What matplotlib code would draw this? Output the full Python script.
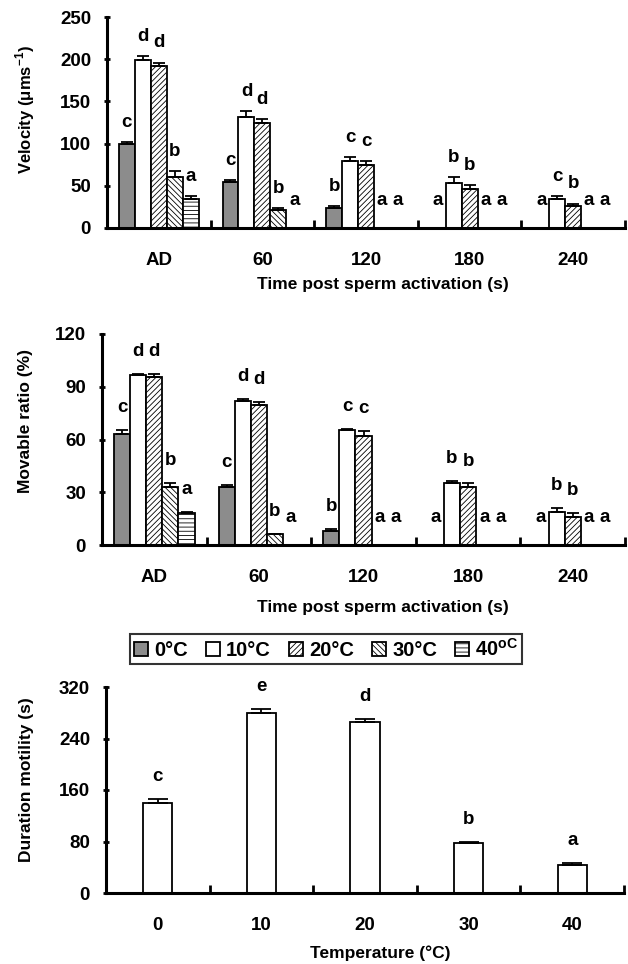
import numpy as np
import matplotlib
matplotlib.use("Agg")
import matplotlib.pyplot as plt

plt.rcParams['font.family'] = ['Liberation Sans', 'DejaVu Sans']
plt.rcParams['font.weight'] = 'bold'
plt.rcParams['mathtext.fontset'] = 'custom'
plt.rcParams['mathtext.rm'] = 'Liberation Sans:bold'
plt.rcParams['mathtext.bf'] = 'Liberation Sans:bold'
plt.rcParams['hatch.linewidth'] = 0.6

# data
groups = ['AD', '60', '120', '180', '240']
temps = ['0\u00b0C', '10\u00b0C', '20\u00b0C', '30\u00b0C', '40$^{\\mathbf{oC}}$']

vel_0 = [100, 55, 24, 0, 0]
vel_10 = [199, 132, 79, 53, 34]
vel_20 = [192, 125, 75, 46, 26]
vel_30 = [60, 21, 0, 0, 0]
vel_40 = [34, 0, 0, 0, 0]
vel_err_0 = [2, 2, 2, 0, 0]
vel_err_10 = [5, 7, 5, 7, 4]
vel_err_20 = [4, 4, 4, 5, 3]
vel_err_30 = [7, 3, 0, 0, 0]
vel_err_40 = [4, 0, 0, 0, 0]
vel_letters = [['c', 'd', 'd', 'b', 'a'],
               ['c', 'd', 'd', 'b', 'a'],
               ['b', 'c', 'c', 'a', 'a'],
               ['a', 'b', 'b', 'a', 'a'],
               ['a', 'c', 'b', 'a', 'a']]

mov_0 = [63, 33, 8, 0, 0]
mov_10 = [96.5, 82, 65.5, 35.5, 19]
mov_20 = [95.5, 79.5, 62, 33, 16]
mov_30 = [33, 6, 0, 0, 0]
mov_40 = [18, 0, 0, 0, 0]
mov_err_0 = [2.5, 1, 1, 0, 0]
mov_err_10 = [1, 1, 0.7, 0.7, 2]
mov_err_20 = [2, 2, 3, 2, 2]
mov_err_30 = [2.5, 0.5, 0, 0, 0]
mov_err_40 = [1, 0, 0, 0, 0]
mov_letters = [['c', 'd', 'd', 'b', 'a'],
               ['c', 'd', 'd', 'b', 'a'],
               ['b', 'c', 'c', 'a', 'a'],
               ['a', 'b', 'b', 'a', 'a'],
               ['a', 'b', 'b', 'a', 'a']]

dur_temps = ['0', '10', '20', '30', '40']
dur = [140, 280, 265, 78, 43]
dur_err = [6, 6, 5, 2, 4]
dur_letters = ['c', 'e', 'd', 'b', 'a']

# bar styles per temperature
styles = [dict(color='#8c8c8c', hatch=None),
          dict(color='white', hatch=None),
          dict(color='white', hatch='//////'),
          dict(color='white', hatch='\\\\\\\\\\\\'),
          dict(color='white', hatch='----')]


def style_axis(ax, ymax, ystep):
    for s in ['top', 'right']:
        ax.spines[s].set_visible(False)
    for s in ['left', 'bottom']:
        ax.spines[s].set_linewidth(2.2)
    ax.set_xlim(-0.5, 4.5)
    ax.set_ylim(0, ymax)
    ax.set_yticks(np.arange(0, ymax + 1, ystep))
    ax.set_xticks(np.arange(5))
    ax.set_xticks(np.arange(5) + 0.5, minor=True)
    ax.tick_params(axis='y', direction='inout', length=5, width=2, pad=9, labelsize=13.5)
    ax.tick_params(axis='x', which='major', length=0, pad=17, labelsize=13.5)
    ax.tick_params(axis='x', which='minor', direction='in', length=6, width=2)
    for t in ax.get_xticklabels() + ax.get_yticklabels():
        t.set_fontweight('bold')


def grouped(ax, series, errs, letters, ymax, ystep, pad, zero_pad):
    w = 0.154
    x = np.arange(len(groups))
    handles = []
    for i, (vals, err) in enumerate(zip(series, errs)):
        xi = x + (i - 2) * w
        b = ax.bar(xi, vals, w, edgecolor='black', linewidth=1.3,
                   label=temps[i], **styles[i])
        handles.append(b)
        ax.errorbar(xi, vals, yerr=[np.zeros(len(err)), err], fmt='none',
                    ecolor='black', elinewidth=1.3, capsize=4.5, capthick=1.3)
        for g in range(len(groups)):
            top = vals[g] + err[g]
            off = pad if vals[g] > 0 else zero_pad
            ax.annotate(letters[g][i], (xi[g], top), xytext=(0, off),
                        textcoords='offset points', ha='center', va='bottom',
                        fontsize=13.5, fontweight='bold')
    style_axis(ax, ymax, ystep)
    ax.set_xticklabels(groups)
    return handles


fig = plt.figure(figsize=(6.28, 9.64), dpi=100)

ax1 = fig.add_axes([107 / 628, 1 - 228 / 964, 518 / 628, 211 / 964])
grouped(ax1, [vel_0, vel_10, vel_20, vel_30, vel_40],
        [vel_err_0, vel_err_10, vel_err_20, vel_err_30, vel_err_40],
        vel_letters, 250, 50, 8, 14)
ax1.text(0.533, -0.27, 'Time post sperm activation (s)', transform=ax1.transAxes,
         ha='center', va='center', fontsize=12.5, fontweight='bold')
ax1.text(-0.158, 0.56, 'Velocity (\u03bcms$^{\\mathbf{-1}}$)', transform=ax1.transAxes,
         rotation=90, ha='center', va='center', fontsize=12, fontweight='bold')

ax2 = fig.add_axes([102 / 628, 1 - 545 / 964, 523 / 628, 211 / 964])
handles = grouped(ax2, [mov_0, mov_10, mov_20, mov_30, mov_40],
                  [mov_err_0, mov_err_10, mov_err_20, mov_err_30, mov_err_40],
                  mov_letters, 120, 30, 10, 14)
ax2.text(0.537, -0.298, 'Time post sperm activation (s)', transform=ax2.transAxes,
         ha='center', va='center', fontsize=12.5, fontweight='bold')
ax2.text(-0.147, 0.59, 'Movable ratio (%)', transform=ax2.transAxes,
         rotation=90, ha='center', va='center', fontsize=12.5, fontweight='bold')

leg = fig.legend(handles=handles, labels=temps, loc='center',
                 bbox_to_anchor=(326 / 628, 1 - 649 / 964), ncol=5,
                 frameon=True, fancybox=False, edgecolor='black',
                 handlelength=0.7, handleheight=0.7, handletextpad=0.3,
                 columnspacing=0.9, borderpad=0.2, fontsize=14.5)
leg.get_frame().set_linewidth(1.5)
for t in leg.get_texts():
    t.set_fontweight('bold')

ax3 = fig.add_axes([106 / 628, 1 - 893 / 964, 518 / 628, 206 / 964])
xd = np.arange(len(dur_temps))
ax3.bar(xd, dur, 0.28, color='white', edgecolor='black', linewidth=1.3)
ax3.errorbar(xd, dur, yerr=[np.zeros(len(dur_err)), dur_err], fmt='none',
             ecolor='black', elinewidth=1.3, capsize=7, capthick=1.3)
for i in range(len(dur)):
    ax3.annotate(dur_letters[i], (xd[i], dur[i] + dur_err[i]), xytext=(0, 10),
                 textcoords='offset points', ha='center', va='bottom',
                 fontsize=13.5, fontweight='bold')
style_axis(ax3, 320, 80)
ax3.set_xticklabels(dur_temps)
ax3.text(0.529, -0.29, 'Temperature (\u00b0C)', transform=ax3.transAxes,
         ha='center', va='center', fontsize=12.5, fontweight='bold')
ax3.text(-0.154, 0.55, 'Duration motility (s)', transform=ax3.transAxes,
         rotation=90, ha='center', va='center', fontsize=12.5, fontweight='bold')

fig.savefig('out.png', dpi=100)
